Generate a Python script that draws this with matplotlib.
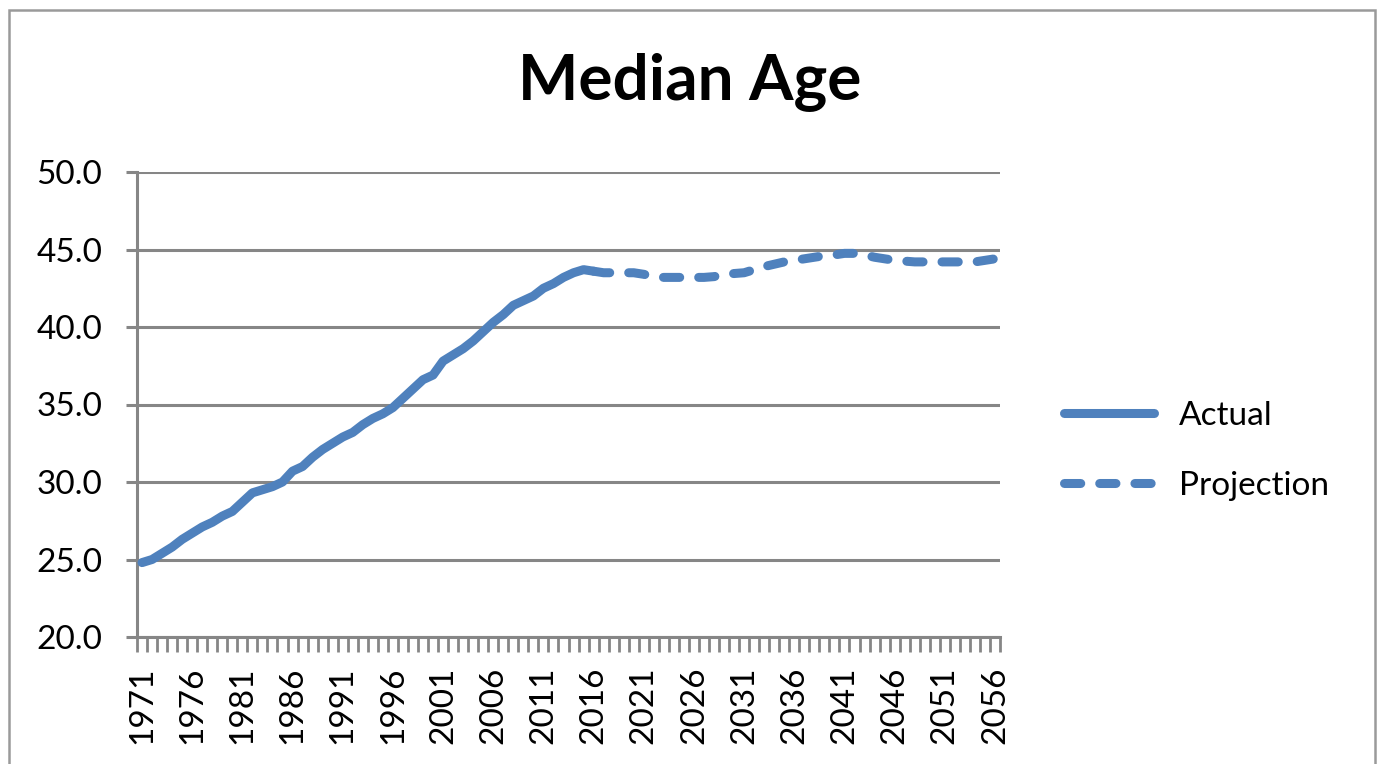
import numpy as np
import matplotlib.pyplot as plt
from matplotlib import patches

# data
actual_years = list(range(1971, 2017))
actual_age = [24.8, 25.0, 25.4, 25.8, 26.3, 26.7, 27.1, 27.4, 27.8, 28.1,
              28.7, 29.3, 29.5, 29.7, 30.0, 30.7, 31.0, 31.6, 32.1, 32.5,
              32.9, 33.2, 33.7, 34.1, 34.4, 34.8, 35.4, 36.0, 36.6, 36.9,
              37.8, 38.2, 38.6, 39.1, 39.7, 40.3, 40.8, 41.4, 41.7, 42.0,
              42.5, 42.8, 43.2, 43.5, 43.7, 43.6]

proj_years = list(range(2016, 2057))
proj_age = [43.6, 43.5, 43.5, 43.5, 43.5, 43.4, 43.25, 43.2, 43.2, 43.2,
            43.2, 43.2, 43.25, 43.4, 43.45, 43.5, 43.7, 43.9, 44.05, 44.2,
            44.3, 44.4, 44.5, 44.6, 44.65, 44.75, 44.75, 44.65, 44.5, 44.4,
            44.3, 44.25, 44.2, 44.2, 44.2, 44.2, 44.2, 44.2, 44.2, 44.3, 44.4]

label_years = list(range(1971, 2057, 5))
y_ticks = [20, 25, 30, 35, 40, 45, 50]

line_color = '#4F81BD'
grid_color = '#868686'

plt.rcParams['font.family'] = ['Lato', 'DejaVu Sans']

my_dpi = 100
fig = plt.figure(figsize = (1383 / my_dpi, 764 / my_dpi), dpi = my_dpi)
ax = fig.add_axes([137 / 1383, 1 - 637 / 764, (1000 - 137) / 1383, (637 - 172) / 764])

# chart frame
fig.patches.append(patches.Rectangle((9 / 1383, -0.05), (1375 - 9) / 1383, 1.05 - 10 / 764,
                                     transform = fig.transFigure, fill = False,
                                     edgecolor = '#9a9a9a', linewidth = 1.8))

dash = (0, (1.8, 2.1))
ax.plot(actual_years, actual_age, color = line_color, linewidth = 6.5,
        solid_capstyle = 'round', solid_joinstyle = 'round', label = 'Actual', zorder = 3)
ax.plot(proj_years, proj_age, color = line_color, linewidth = 6.5, linestyle = dash,
        dash_capstyle = 'round', label = 'Projection', zorder = 3)

ax.set_xlim(1970.5, 2056.5)
ax.set_ylim(20, 50)

ax.set_yticks(y_ticks)
ax.set_yticklabels(["%.1f" % v for v in y_ticks])
ax.yaxis.grid(True, color = grid_color, linewidth = 2.2)
ax.set_axisbelow(True)

ax.set_xticks(label_years)
ax.set_xticklabels([str(y) for y in label_years], rotation = 90)
ax.set_xticks(np.arange(1970.5, 2057, 1), minor = True)
ax.tick_params(axis = 'x', which = 'major', length = 0, pad = 21, labelsize = 24)
ax.tick_params(axis = 'x', which = 'minor', length = 11, width = 2, color = grid_color, direction = 'out')
ax.tick_params(axis = 'y', which = 'major', length = 8, width = 2.2, color = grid_color, labelsize = 24, pad = 17)

for side in ['top', 'right']:
    ax.spines[side].set_visible(False)
for side in ['left', 'bottom']:
    ax.spines[side].set_color(grid_color)
    ax.spines[side].set_linewidth(2.2)

fig.text(690 / 1383, 1 - 82 / 764, 'Median Age', fontsize = 46, fontweight = 'bold',
         ha = 'center', va = 'center')

leg = ax.legend(loc = 'center left', bbox_to_anchor = (1.074, 0.4), frameon = False,
                fontsize = 24, handlelength = 2.7, handletextpad = 0.75, labelspacing = 1.2,
                borderpad = 0, borderaxespad = 0)

plt.savefig('out.png', dpi = my_dpi)
